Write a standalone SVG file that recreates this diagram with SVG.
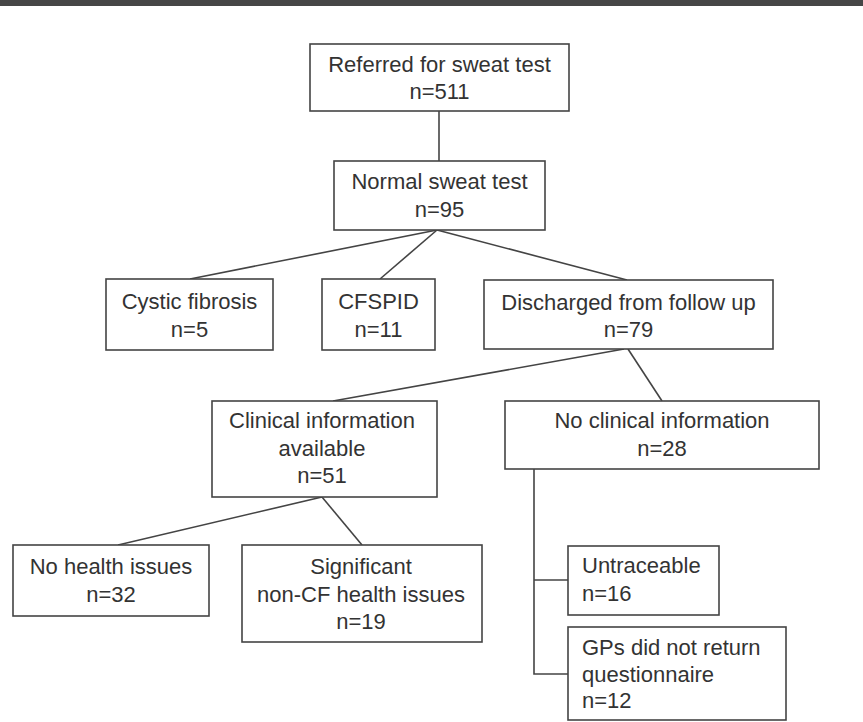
<svg xmlns="http://www.w3.org/2000/svg" width="863" height="722" viewBox="0 0 863 722">
<style>
.box{fill:#fff;stroke:#444;stroke-width:1.6}
.t{font-family:"Liberation Sans",Arial,sans-serif;font-size:22px;fill:#333;text-anchor:middle}
.l{text-anchor:start}
.c{fill:none;stroke:#444;stroke-width:1.6}
</style>
<rect x="0" y="0" width="863" height="722" fill="#fff"/>
<rect x="0" y="0" width="863" height="6" fill="#464646"/>
<g id="connectors">
<line class="c" x1="439" y1="111" x2="439" y2="161"/>
<line class="c" x1="437" y1="230" x2="190" y2="279"/>
<line class="c" x1="437" y1="230" x2="380" y2="279"/>
<line class="c" x1="437" y1="230" x2="627" y2="280"/>
<line class="c" x1="624" y1="349" x2="333" y2="401"/>
<line class="c" x1="628" y1="349" x2="662" y2="401"/>
<line class="c" x1="322" y1="497" x2="118" y2="545"/>
<line class="c" x1="322" y1="497" x2="362" y2="545"/>
<polyline class="c" points="534,469 534,674 568,674"/>
<line class="c" x1="534" y1="580" x2="568" y2="580"/>
</g>
<g id="referred">
<rect class="box" x="310" y="44" width="259" height="67"/>
<text class="t" x="439.5" y="72">Referred for sweat test</text>
<text class="t" x="439.5" y="99">n=511</text>
</g>
<g id="normal">
<rect class="box" x="334" y="161" width="211" height="69"/>
<text class="t" x="439.5" y="189">Normal sweat test</text>
<text class="t" x="439.5" y="217">n=95</text>
</g>
<g id="cystic">
<rect class="box" x="106" y="279" width="167" height="71"/>
<text class="t" x="189.5" y="309">Cystic fibrosis</text>
<text class="t" x="189.5" y="337">n=5</text>
</g>
<g id="cfspid">
<rect class="box" x="322" y="279" width="113" height="71"/>
<text class="t" x="378.5" y="309">CFSPID</text>
<text class="t" x="378.5" y="337">n=11</text>
</g>
<g id="discharged">
<rect class="box" x="484" y="280" width="289" height="69"/>
<text class="t" x="628.5" y="310">Discharged from follow up</text>
<text class="t" x="628.5" y="337">n=79</text>
</g>
<g id="clinical">
<rect class="box" x="212" y="401" width="225" height="96"/>
<text class="t" x="322" y="428">Clinical information</text>
<text class="t" x="322" y="456">available</text>
<text class="t" x="322" y="483">n=51</text>
</g>
<g id="noclinical">
<rect class="box" x="505" y="401" width="314" height="68"/>
<text class="t" x="662" y="428">No clinical information</text>
<text class="t" x="662" y="456">n=28</text>
</g>
<g id="nohealth">
<rect class="box" x="13" y="545" width="196" height="71"/>
<text class="t" x="111" y="574">No health issues</text>
<text class="t" x="111" y="602">n=32</text>
</g>
<g id="significant">
<rect class="box" x="242" y="545" width="240" height="97"/>
<text class="t" x="361" y="574">Significant</text>
<text class="t" x="361" y="602">non-CF health issues</text>
<text class="t" x="361" y="629">n=19</text>
</g>
<g id="untraceable">
<rect class="box" x="568" y="546" width="151" height="69"/>
<text class="t l" x="582" y="573">Untraceable</text>
<text class="t l" x="582" y="601">n=16</text>
</g>
<g id="gps">
<rect class="box" x="568" y="627" width="218" height="93"/>
<text class="t l" x="582" y="655">GPs did not return</text>
<text class="t l" x="582" y="682">questionnaire</text>
<text class="t l" x="582" y="708">n=12</text>
</g>
</svg>
